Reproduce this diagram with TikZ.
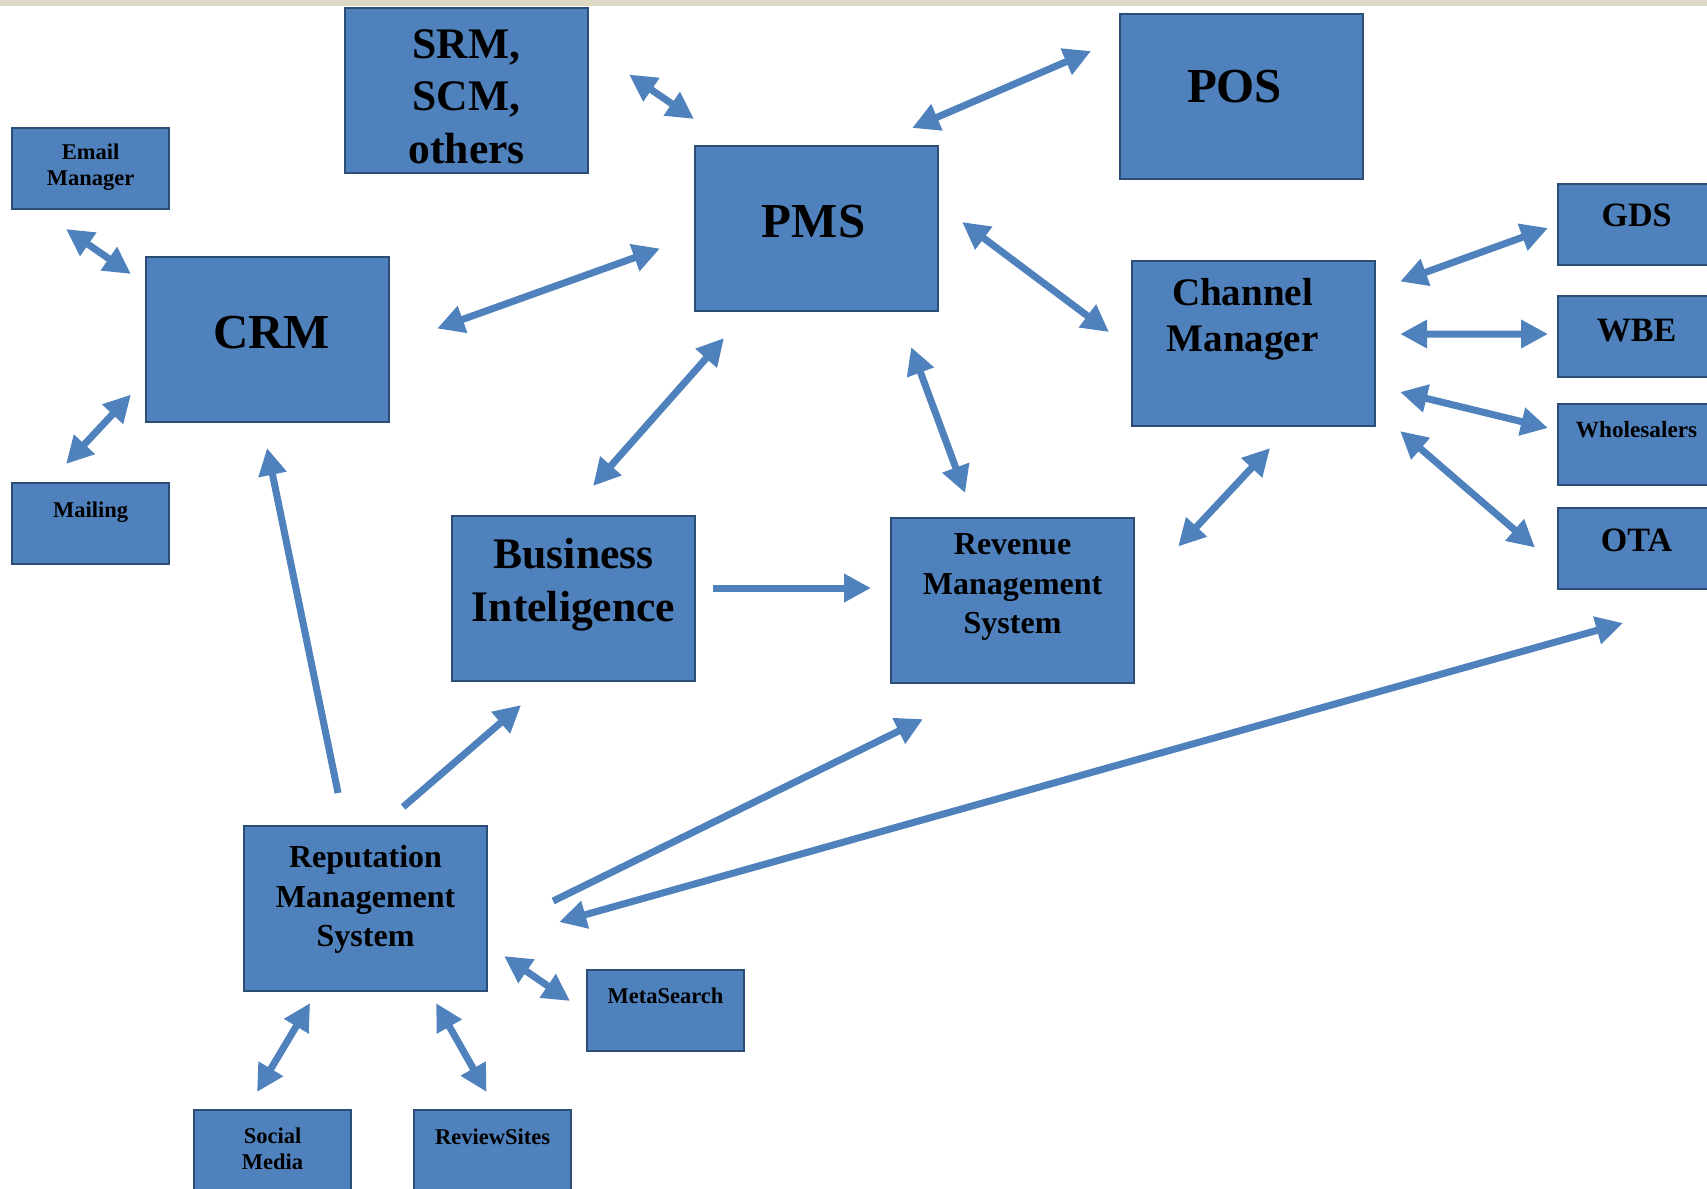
\documentclass[tikz,border=0pt]{standalone}
\usepackage{fontspec}
\setmainfont{Liberation Serif}
\usetikzlibrary{arrows.meta, positioning}
\definecolor{boxblue}{HTML}{4F81BD}
\definecolor{boxedge}{HTML}{2C4D75}
\definecolor{linkblue}{HTML}{4F81BD}
\definecolor{topband}{HTML}{DED9C4}

\begin{document}
\begin{tikzpicture}[x=0.01cm, y=-0.01cm, line join=miter,
    sysbox/.style={draw=boxedge, fill=boxblue, line width=0.75pt, inner sep=0pt, outer sep=0pt, anchor=north west},
    bigbox/.style={sysbox, minimum width=2.43cm, minimum height=1.65cm},
    smallbox/.style={sysbox, minimum width=1.57cm, minimum height=0.81cm},
    ttl/.style n args={2}{inner sep=0pt, align=center, font=\bfseries\fontsize{#1}{#2}\selectfont},
    link/.style={draw=linkblue, line width=2pt, >={Triangle[length=0.27cm, width=0.27cm]}}]
      \clip (0,0) rectangle (1707,1189);
      \fill[topband] (0,0) rectangle (1707,6);

      % Bloques principales
      \node[bigbox] (srm) at (345,8) {};
      \node[bigbox] (pos) at (1120,14) {};
      \node[bigbox] (pms) at (695,146) {};
      \node[bigbox] (crm) at (146,257) {};
      \node[bigbox] (chan) at (1132,261) {};
      \node[bigbox] (bi) at (452,516) {};
      \node[bigbox] (rev) at (891,518) {};
      \node[bigbox] (rep) at (244,826) {};

      % Bloques pequenos
      \node[smallbox] (email) at (12,128) {};
      \node[smallbox] (mail) at (12,483) {};
      \node[smallbox] (gds) at (1558,184) {};
      \node[smallbox] (wbe) at (1558,296) {};
      \node[smallbox] (whole) at (1558,404) {};
      \node[smallbox] (ota) at (1558,508) {};
      \node[smallbox] (meta) at (587,970) {};
      \node[smallbox] (social) at (194,1110) {};
      \node[smallbox] (review) at (414,1110) {};

      % Textos
      \node[ttl={12.4pt}{14.9pt}, below=0.21cm of srm.north] (srm-t) {SRM,\\SCM,\\others};
      \node[ttl={13.9pt}{16pt}, below=0.55cm of pos.north, xshift=-0.07cm] (pos-t) {POS};
      \node[ttl={13.9pt}{16pt}, below=0.58cm of pms.north, xshift=-0.03cm] (pms-t) {PMS};
      \node[ttl={13.9pt}{16pt}, below=0.58cm of crm.north, xshift=0.04cm] (crm-t) {CRM};
      \node[ttl={11.1pt}{13.1pt}, below=0.17cm of chan.north, xshift=-0.11cm] (chan-t) {Channel\\Manager};
      \node[ttl={12.4pt}{14.9pt}, below=0.22cm of bi.north] (bi-t) {Business\\Inteligence};
      \node[ttl={9.1pt}{11.2pt}, below=0.15cm of rev.north] (rev-t) {Revenue\\Management\\System};
      \node[ttl={9.1pt}{11.2pt}, below=0.19cm of rep.north] (rep-t) {Reputation\\Management\\System};
      \node[ttl={6.4pt}{7.5pt}, below=0.15cm of email.north] (email-t) {Email\\Manager};
      \node[ttl={6.4pt}{7.5pt}, below=0.18cm of mail.north] (mail-t) {Mailing};
      \node[ttl={9.7pt}{11pt}, below=0.19cm of gds.north] (gds-t) {GDS};
      \node[ttl={9.7pt}{11pt}, below=0.22cm of wbe.north] (wbe-t) {WBE};
      \node[ttl={6.6pt}{7.5pt}, below=0.17cm of whole.north] (whole-t) {Wholesalers};
      \node[ttl={9.7pt}{11pt}, below=0.20cm of ota.north] (ota-t) {OTA};
      \node[ttl={6.4pt}{7.5pt}, below=0.17cm of meta.north] (meta-t) {MetaSearch};
      \node[ttl={6.4pt}{7.5pt}, below=0.17cm of social.north] (social-t) {Social\\Media};
      \node[ttl={6.4pt}{7.5pt}, below=0.18cm of review.north] (review-t) {ReviewSites};

      % Conexiones del PMS
      \draw[link, <->] ([shift={(41,-16)}]srm.east) -- ([shift={(-1,-27)}]pms.north west);
      \draw[link, <->] ([shift={(-26,-18)}]pms.north east) -- ([shift={(-29,-45.5)}]pos.west);
      \draw[link, <->] ([shift={(48,-11)}]crm.east) -- ([shift={(-35,20)}]pms.west);
      \draw[link, <->] ([shift={(24,-6.5)}]pms.east) -- ([shift={(-23,-11.5)}]chan.west);
      \draw[link, <->] ([shift={(29,27)}]pms.south west) -- ([shift={(19.5,-30)}]bi.north);
      \draw[link, <->] ([shift={(-27,36)}]pms.south east) -- ([shift={(-47.5,-25)}]rev.north);

      % CRM
      \draw[link, <->] ([shift={(-24.5,20)}]email.south) -- ([shift={(-15,17)}]crm.north west);
      \draw[link, <->] ([shift={(-15,55)}]crm.west) -- ([shift={(-24.5,-19)}]mail.north);

      % Channel Manager
      \draw[link, <->] ([shift={(25,-62)}]chan.east) -- ([shift={(-10,3.5)}]gds.west);
      \draw[link, <->] ([shift={(25,-9.5)}]chan.east) -- ([shift={(-10,-2.5)}]wbe.west);
      \draw[link, <->] ([shift={(25,48.5)}]chan.east) -- ([shift={(-10,-16.5)}]whole.west);
      \draw[link, <->] ([shift={(25,5)}]chan.south east) -- ([shift={(-23,-1)}]ota.west);
      \draw[link, <->] ([shift={(16.5,22)}]chan.south) -- ([shift={(44,-54)}]rev.east);
      \draw[link, ->] ([shift={(18,-10.5)}]bi.east) -- ([shift={(-20,-12.5)}]rev.west);

      % Reputation Management System
      \draw[link, ->] ([shift={(-27.5,-33)}]rep.north) -- ([shift={(-0.5,26)}]crm.south);
      \draw[link, ->] ([shift={(37.5,-19)}]rep.north) -- ([shift={(-52.5,24)}]bi.south);
      \draw[link, ->] ([shift={(66,-7.5)}]rep.east) -- ([shift={(32,36)}]rev.south west);
      \draw[link, <->] ([shift={(72,13.5)}]rep.east) -- ([shift={(-13.5,34)}]ota.south);
      \draw[link, <->] ([shift={(17,-35)}]rep.south east) -- ([shift={(-17,-9.5)}]meta.west);
      \draw[link, <->] ([shift={(-55.5,12)}]rep.south) -- ([shift={(-15.5,-18)}]social.north);
      \draw[link, <->] ([shift={(70.5,12)}]rep.south) -- ([shift={(-6,-18)}]review.north);
\end{tikzpicture}
\end{document}
